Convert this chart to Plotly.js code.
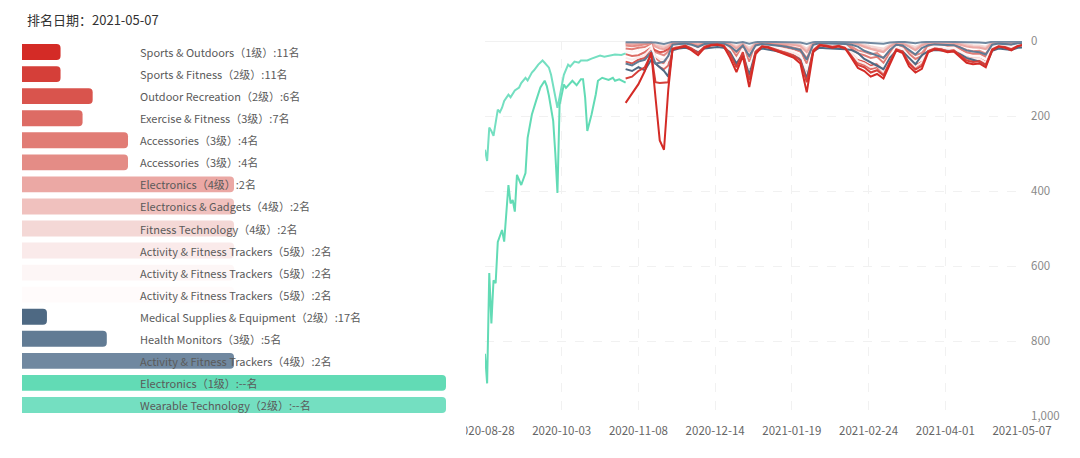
<!DOCTYPE html>
<html>
<head>
<meta charset="utf-8">
<script src="https://cdn.plot.ly/plotly-3.0.1.min.js"></script>
<style>html,body{margin:0;padding:0;background:#fff;}#chart{width:1080px;height:458px;}</style>
</head>
<body>
<div id="chart"></div>
<script>
// ---------- categories (left bars) ----------
const catNames = ["Sports & Outdoors","Sports & Fitness","Outdoor Recreation","Exercise & Fitness","Accessories","Accessories","Electronics","Electronics & Gadgets","Fitness Technology","Activity & Fitness Trackers","Activity & Fitness Trackers","Activity & Fitness Trackers","Medical Supplies & Equipment","Health Monitors","Activity & Fitness Trackers","Electronics","Wearable Technology"];
const catLevels = [1,2,2,3,3,3,4,4,4,5,5,5,2,3,4,1,2];
const catRanks = [11,11,6,7,4,4,2,2,2,2,2,2,17,5,2,null,null];
const catColors = ["#d42b26","#d53f39","#d9544d","#dd6b64","#e17c75","#e48c86","#eba8a4","#f0c1be","#f4d8d6","#faeaea","#fdf6f6","#fffbfb","#4e6983","#617b94","#7088a0","#62dbb5","#74dfc1"];

// ---------- line data ----------
const tealADates = ["2020-08-28","2020-08-29","2020-08-30","2020-08-31","2020-09-01","2020-09-02","2020-09-03","2020-09-04","2020-09-05","2020-09-06","2020-09-08","2020-09-09","2020-09-11","2020-09-13","2020-09-14","2020-09-16","2020-09-17","2020-09-19","2020-09-20","2020-09-22","2020-09-24","2020-09-25","2020-09-27","2020-09-28","2020-09-30","2020-10-01","2020-10-02","2020-10-04","2020-10-06","2020-10-07","2020-10-09","2020-10-11","2020-10-12","2020-10-15","2020-10-17","2020-10-19","2020-10-21","2020-10-23","2020-10-25","2020-10-28","2020-10-31","2020-11-02"];
const wearableRank = [290,320,231,240,253,215,183,190,178,160,143,150,132,124,112,98,105,84,78,63,52,58,71,90,151,178,150,90,63,68,55,58,52,52,47,44,39,42,39,36,37,33];

const tealBDates = ["2020-08-28","2020-08-29","2020-08-30","2020-08-31","2020-09-01","2020-09-02","2020-09-03","2020-09-05","2020-09-06","2020-09-08","2020-09-09","2020-09-10","2020-09-11","2020-09-12","2020-09-14","2020-09-16","2020-09-17","2020-09-19","2020-09-21","2020-09-23","2020-09-25","2020-09-26","2020-09-27","2020-09-29","2020-09-30","2020-10-01","2020-10-02","2020-10-03","2020-10-04","2020-10-05","2020-10-07","2020-10-08","2020-10-10","2020-10-12","2020-10-13","2020-10-14","2020-10-15","2020-10-17","2020-10-19","2020-10-20","2020-10-22","2020-10-25","2020-10-27","2020-10-28","2020-10-30","2020-11-02"];
const electronicsRank = [834,913,619,753,638,646,536,504,535,384,433,424,455,357,384,352,258,196,159,124,106,120,146,213,300,405,170,138,116,125,113,106,118,102,102,151,240,196,142,106,98,104,98,106,102,111];

const redDates = ["2020-11-02","2020-11-05","2020-11-08","2020-11-11","2020-11-14","2020-11-16","2020-11-18","2020-11-20","2020-11-22","2020-11-24","2020-11-27","2020-11-30","2020-12-03","2020-12-06","2020-12-09","2020-12-12","2020-12-15","2020-12-18","2020-12-21","2020-12-24","2020-12-27","2020-12-30","2021-01-02","2021-01-05","2021-01-08","2021-01-11","2021-01-14","2021-01-17","2021-01-20","2021-01-23","2021-01-26","2021-01-29","2021-02-01","2021-02-04","2021-02-07","2021-02-10","2021-02-13","2021-02-16","2021-02-19","2021-02-22","2021-02-25","2021-02-28","2021-03-03","2021-03-06","2021-03-09","2021-03-12","2021-03-15","2021-03-18","2021-03-21","2021-03-24","2021-03-27","2021-03-30","2021-04-02","2021-04-05","2021-04-08","2021-04-11","2021-04-14","2021-04-17","2021-04-20","2021-04-23","2021-04-26","2021-04-29","2021-05-02","2021-05-05","2021-05-07"];

const sportsOutdoorsRank = [165,140,115,80,30,150,265,290,130,22,18,15,25,38,18,12,10,14,45,83,40,123,35,15,18,25,30,38,45,60,137,30,12,14,18,15,20,45,72,80,95,88,100,62,25,32,68,84,74,30,22,25,30,28,42,58,62,60,70,25,15,18,25,14,11];
const sportsFitnessRank = [100,95,80,70,35,110,112,112,110,20,15,12,20,32,15,10,9,12,35,70,30,105,28,14,16,22,28,34,40,52,110,25,10,12,15,13,18,40,64,70,84,78,92,55,22,28,60,76,66,27,20,22,27,25,38,52,56,54,64,22,14,16,22,13,11];
const outdoorRecRank = [55,60,50,45,20,25,30,28,22,12,10,8,14,25,10,7,6,8,25,55,22,80,20,10,12,16,20,25,30,40,85,18,7,8,10,9,12,30,50,55,65,60,80,45,16,22,48,65,55,20,14,16,20,18,30,42,46,45,55,16,10,12,17,9,6];
const exerciseRank = [35,40,38,30,15,60,70,75,65,15,12,10,16,28,12,8,7,10,30,62,26,92,24,12,14,19,24,29,35,45,98,20,8,10,12,11,14,35,58,64,75,70,86,50,18,25,54,70,60,23,16,18,23,21,34,47,51,50,60,19,12,14,20,10,7];
const accessoriesARank = [20,22,18,16,10,45,55,60,40,10,8,6,10,18,7,5,5,6,18,40,16,55,14,7,8,11,14,18,22,28,60,12,5,6,8,7,9,20,33,38,45,42,58,32,11,16,34,48,40,14,10,11,14,13,21,30,34,33,42,12,7,8,13,6,4];
const accessoriesBRank = [12,14,12,10,6,30,35,38,28,7,6,5,8,14,6,4,4,5,14,30,12,42,11,6,7,9,11,14,17,22,46,9,4,5,6,6,7,15,25,29,35,32,46,26,9,12,27,38,32,11,8,9,11,10,17,24,27,26,34,10,6,7,10,5,4];
const electronics4Rank = [8,9,8,7,4,15,20,22,16,5,4,3,5,9,4,3,3,3,9,20,8,28,7,4,5,6,7,9,11,14,30,6,3,3,4,4,5,6,9,16,22,26,30,15,6,7,15,25,12,6,5,6,7,6,10,15,17,18,22,6,4,4,6,3,2];
const gadgetsRank = [6,7,6,5,3,12,16,18,13,4,3,3,4,8,3,2,2,3,8,17,7,24,6,3,4,5,6,8,9,12,26,5,2,3,3,3,4,5,8,14,19,22,26,13,5,6,13,21,10,5,4,5,6,5,9,13,15,16,19,5,3,3,5,3,2];
const fitnessTechRank = [5,5,4,4,3,9,12,13,10,3,3,2,3,6,3,2,2,2,6,13,5,18,5,3,3,4,5,6,7,9,20,4,2,2,3,3,3,4,6,11,14,17,20,10,4,5,10,16,8,4,3,4,5,4,7,10,11,12,15,4,3,3,4,2,2];
const trackers5ARank = [45,50,44,38,18,40,48,50,42,14,11,9,15,27,11,8,7,9,28,58,24,86,22,11,13,18,22,27,33,42,92,19,8,9,11,10,13,33,54,60,70,66,83,47,17,24,50,68,57,22,15,17,22,20,32,44,48,47,57,18,11,13,18,8,2];
const trackers5BRank = [28,30,27,22,12,52,62,66,50,12,10,8,13,23,9,6,6,8,24,50,20,72,18,9,11,15,19,23,28,36,78,16,6,8,10,9,11,27,45,50,60,56,72,40,14,20,42,58,50,19,13,14,18,17,27,38,42,41,50,15,9,10,15,7,2];
const trackers5CRank = [130,118,98,75,32,125,180,200,118,21,16,13,22,35,16,11,10,13,40,76,35,114,31,14,17,23,29,36,42,56,122,27,11,13,16,14,19,42,68,75,90,82,96,58,23,30,64,80,70,28,21,23,28,26,40,55,59,57,67,23,14,17,23,13,2];
const medicalRank = [75,80,70,78,50,60,70,80,95,25,20,18,22,30,20,18,16,18,30,60,35,90,30,20,22,26,30,35,40,50,100,28,18,19,20,19,22,24,32,48,58,66,75,45,26,28,45,62,38,27,24,25,28,27,35,45,50,55,65,26,20,21,24,18,17];
const healthMonRank = [60,65,55,50,30,60,58,55,40,10,8,7,10,16,8,6,6,7,14,28,12,40,12,8,9,11,13,16,19,24,50,10,6,6,7,7,8,10,15,26,33,38,45,24,10,12,24,36,19,11,9,10,12,11,17,25,28,30,36,10,7,7,9,6,5];
const trackers4Rank = [3,3,2,3,2,4,6,8,5,2,2,2,2,3,2,2,2,2,3,5,3,7,3,2,2,2,3,3,3,4,8,3,2,2,2,2,2,2,3,4,5,6,7,4,2,2,4,6,3,2,2,2,2,2,3,4,4,4,5,2,2,2,2,2,2];

// axes ticks
const dateTicks = ["2020-08-28","2020-10-03","2020-11-08","2020-12-14","2021-01-19","2021-02-24","2021-04-01","2021-05-07"];
const rankTicks = [0,200,400,600,800,1000];

// ---------- build ----------
const FONT = '"Noto Sans CJK SC", "Noto Sans", sans-serif';
const W = 1080, H = 458, MT = 41, MB = 42;
const PH = H - MT - MB;
const py = px => (H - MB - px) / PH;   // pixel row -> paper y
const idx = catNames.map((_, i) => i);
const barScore = catRanks.map(r => r ? 1 / r : 1);

const traces = [];
traces.push({
  type: 'bar', orientation: 'h', x: barScore, y: idx,
  xaxis: 'x', yaxis: 'y', width: 0.72,
  marker: {color: catColors, cornerradius: 4, line: {width: 0}},
  hoverinfo: 'skip', showlegend: false
});

// drawn from palest to darkest so the strong colours sit on top
const lineSeries = [
  [redDates, fitnessTechRank, 8],
  [redDates, gadgetsRank, 7],
  [redDates, electronics4Rank, 6],
  [redDates, accessoriesBRank, 5],
  [redDates, accessoriesARank, 4],
  [redDates, exerciseRank, 3],
  [redDates, outdoorRecRank, 2],
  [redDates, trackers5CRank, 11],
  [redDates, trackers5ARank, 9],
  [redDates, trackers5BRank, 10],
  [redDates, medicalRank, 12],
  [redDates, healthMonRank, 13],
  [redDates, sportsFitnessRank, 1],
  [redDates, sportsOutdoorsRank, 0],
  [redDates, trackers4Rank, 14],
  [tealBDates, electronicsRank, 15],
  [tealADates, wearableRank, 16]
];
lineSeries.forEach(([d, v, ci]) => {
  traces.push({
    type: 'scatter', mode: 'lines', x: d, y: v, xaxis: 'x2', yaxis: 'y2',
    name: catNames[ci],
    line: {color: catColors[ci], width: 2, shape: 'linear'},
    hoverinfo: 'skip', showlegend: false
  });
});

const annotations = catNames.map((n, i) => ({
  xref: 'x', yref: 'y', x: 0.2735, y: i, xanchor: 'left', yanchor: 'middle',
  text: n + '（' + catLevels[i] + '级）:' + (catRanks[i] ? catRanks[i] : '--') + '名',
  showarrow: false, font: {family: FONT, size: 11, color: '#5a5a5a'}
}));
annotations.push({
  xref: 'paper', yref: 'paper', x: 25/W, y: py(19), xanchor: 'left', yanchor: 'middle',
  text: '排名日期：2021-05-07', showarrow: false,
  font: {family: FONT, size: 13, color: '#333333'}
});

const layout = {
  width: W, height: H,
  margin: {l: 0, r: 0, t: MT, b: MB},
  paper_bgcolor: '#ffffff', plot_bgcolor: 'rgba(0,0,0,0)',
  font: {family: FONT},
  xaxis: {domain: [22/W, 446/W], range: [0, 1], visible: false, fixedrange: true},
  yaxis: {range: [16.5, -0.5], visible: false, fixedrange: true},
  xaxis2: {
    domain: [485/W, 1022/W], anchor: 'y2', type: 'date',
    range: ['2020-08-28', '2021-05-07'],
    tickvals: dateTicks, ticktext: dateTicks,
    showgrid: true, gridcolor: '#f1f1f1', griddash: 'dash', gridwidth: 1,
    zeroline: false, showline: false, ticks: '',
    ticklabelstandoff: 6,
    tickfont: {family: FONT, size: 11.5, color: '#666666'}
  },
  yaxis2: {
    anchor: 'x2', side: 'right', range: [1000, 0],
    tickvals: rankTicks, tickformat: ',d',
    showgrid: true, gridcolor: '#f1f1f1', griddash: 'dash', gridwidth: 1,
    zeroline: false, showline: false, ticks: '',
    ticklabelstandoff: 8,
    tickfont: {family: FONT, size: 11.5, color: '#8a8a8a'}
  },
  shapes: [
    {type: 'line', xref: 'x2 domain', yref: 'y2', x0: 0, x1: 1, y0: 0, y1: 0, line: {color: '#e4e4e4', width: 1}, layer: 'below'},
    {type: 'rect', xref: 'paper', yref: 'paper', x0: 440/W, x1: 466/W, y0: py(458), y1: py(420), fillcolor: '#ffffff', line: {width: 0}, layer: 'above'}
  ],
  annotations: annotations,
  showlegend: false
};

Plotly.newPlot('chart', traces, layout, {displayModeBar: false, staticPlot: true});
</script>
</body>
</html>
